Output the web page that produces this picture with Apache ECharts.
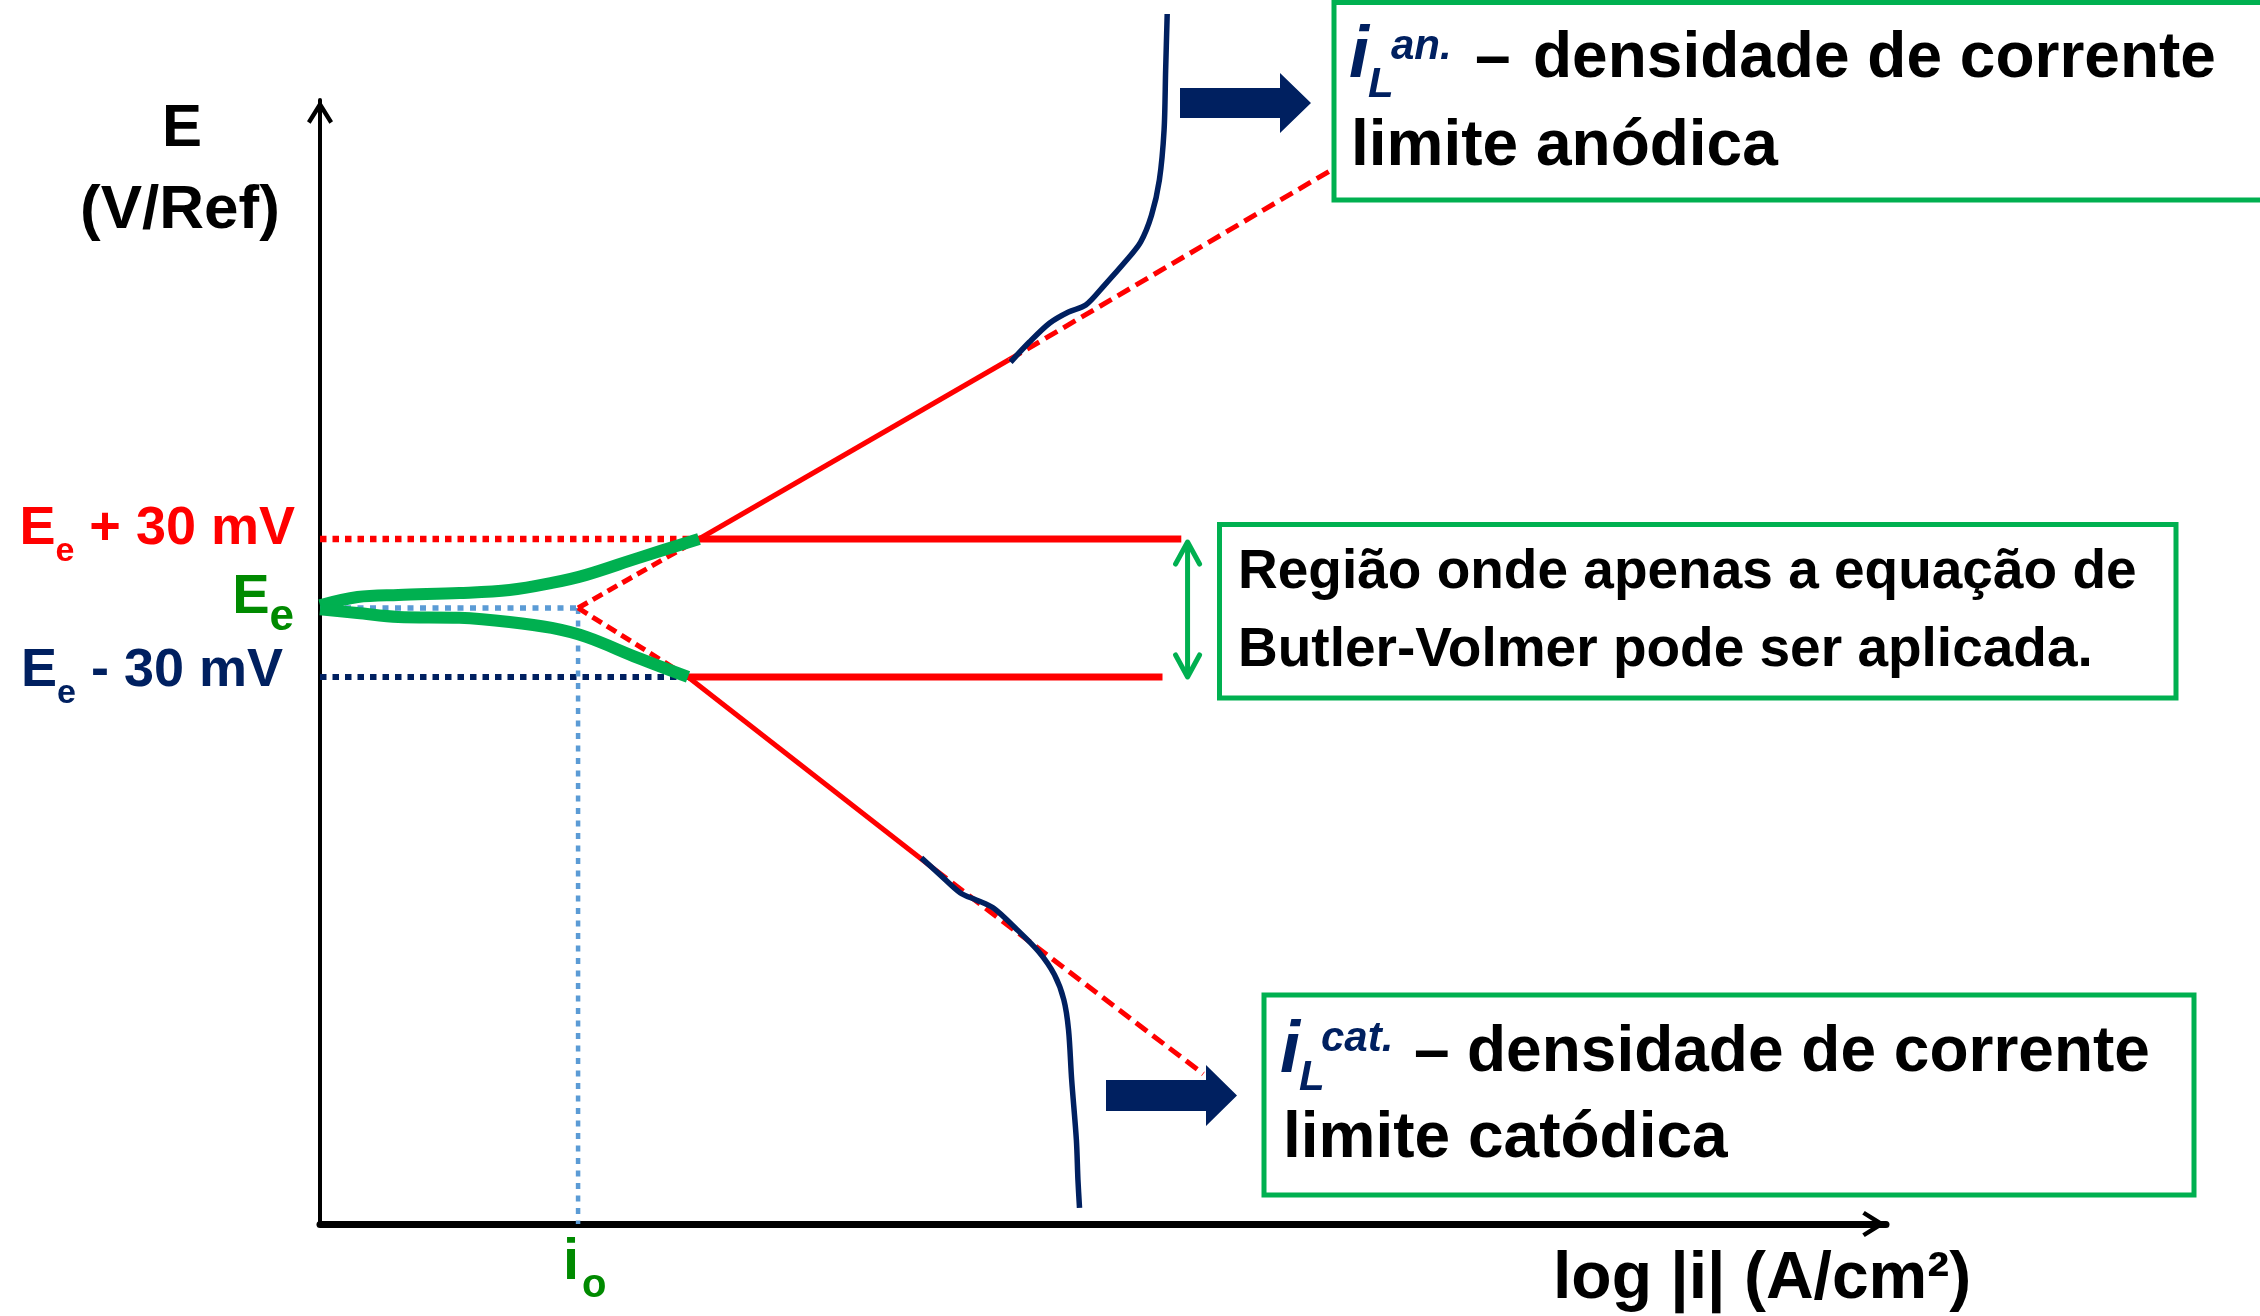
<!DOCTYPE html>
<html><head><meta charset="utf-8">
<script src="https://cdn.jsdelivr.net/npm/echarts@6/dist/echarts.min.js"></script>
<style>html,body{margin:0;padding:0;background:#fff}#c{width:2260px;height:1316px}</style>
</head><body><div id="c"></div>
<script>
// ---------- DATA (x = log|i| in arbitrary decades, E = E - Ee in mV) ----------
const xRange = [0, 10];
const eRange = [-268, 221];
const i0 = 1.648;                 // exchange current density position
const eLevels = [30, 0, -30];     // Ee + 30 mV, Ee, Ee - 30 mV

// Butler-Volmer (green) curves
const greenUpper = [[0, 1.2], [0.24, 4.8], [0.50, 5.7], [0.89, 6.5], [1.21, 7.8], [1.48, 10.9], [1.70, 14.4], [2.03, 21.7], [2.42, 30.0]];
const greenLower = [[0, -0.6], [0.24, -2.2], [0.50, -3.9], [0.89, -4.3], [1.21, -6.1], [1.48, -8.7], [1.70, -12.6], [2.03, -21.7], [2.35, -30.0]];

// Tafel lines (red)
const tafelAnodicDashNear = [[1.648, 0], [2.42, 30]];
const tafelAnodicSolid = [[2.42, 30], [4.40, 108]];
const tafelAnodicDashFar = [[4.40, 108], [6.47, 191]];
const tafelCathodicDashNear = [[1.648, 0], [2.35, -30]];
const tafelCathodicSolid = [[2.35, -30], [3.93, -114]];
const tafelCathodicDashFar = [[3.93, -114], [5.64, -202.7]];

// Region limits (red solid horizontals) and reference dotted lines
const plus30Solid = [[2.42, 30], [5.50, 30]];
const minus30Solid = [[2.35, -30], [5.38, -30]];
const plus30Dotted = [[0, 30], [2.42, 30]];
const minus30Dotted = [[0, -30], [2.35, -30]];
const eeDotted = [[0, 0], [1.648, 0]];
const i0Dotted = [[1.648, 0], [1.648, -268]];

// Real polarization curves with limiting currents (navy)
const anodicCurve = [[4.41, 107.0], [4.53, 115.7], [4.66, 124.0], [4.78, 128.8], [4.89, 131.8], [5.01, 140.5], [5.14, 150.5], [5.24, 159.2], [5.31, 170.9], [5.36, 186.2], [5.39, 207.9], [5.40, 234.0], [5.41, 258.4]];
const cathodicCurve = [[3.84, -108.7], [3.96, -116.1], [4.09, -124.0], [4.19, -127.0], [4.30, -130.5], [4.44, -139.2], [4.59, -149.6], [4.69, -159.6], [4.75, -170.5], [4.78, -183.6], [4.80, -205.3], [4.83, -231.4], [4.84, -248.8], [4.85, -261.0]];

// Texts
const yName = ['E', '(V/Ref)'];
const xName = 'log |i| (A/cm²)';
const boxMid = ['Região onde apenas a equação de', 'Butler-Volmer pode ser aplicada.'];
const boxAn = ['an.', '– ', 'densidade de corrente', 'limite anódica'];
const boxCat = ['cat.', '– ', 'densidade de corrente', 'limite catódica'];

// ---------- RENDER ----------
const FONT = '"Liberation Sans", Arial, sans-serif';
const RED = '#FF0000', NAVY = '#002060', GREEN = '#00B050', DGREEN = '#008A00', BLUE = '#5B9BD5';
const chart = echarts.init(document.getElementById('c'), null, {renderer: 'canvas'});
const chevron = 'path://M0,21 L13,0 L26,21 L22.4,23.5 L13,8.5 L3.6,23.5 Z';

function ln(data, color, width, type, extra) {
  return Object.assign({
    type: 'line', data: data, symbol: 'none', clip: false, silent: true, animation: false,
    lineStyle: {color: color, width: width, type: type || 'solid', cap: 'butt'}
  }, extra || {});
}

chart.setOption({
  animation: false,
  backgroundColor: '#fff',
  grid: {left: 320, right: 374, top: 100, bottom: 92, containLabel: false},
  xAxis: {
    type: 'value', min: xRange[0], max: xRange[1],
    axisLine: {show: true, onZero: false, symbol: ['none', chevron], symbolSize: [26, 24], symbolOffset: [0, -12],
      lineStyle: {color: '#000', width: 7}},
    axisTick: {show: false}, axisLabel: {show: false}, splitLine: {show: false}
  },
  yAxis: {
    type: 'value', min: eRange[0], max: eRange[1],
    axisLine: {show: true, onZero: false, symbol: ['none', chevron], symbolSize: [26, 24], symbolOffset: [0, -12],
      lineStyle: {color: '#000', width: 4}},
    axisTick: {show: false}, axisLabel: {show: false}, splitLine: {show: false}
  },
  series: [
    ln(plus30Dotted, RED, 6.5, [6.5, 6]),
    ln(minus30Dotted, NAVY, 6, [6.5, 6]),
    ln(eeDotted, BLUE, 5.5, [6, 6.5]),
    ln(i0Dotted, BLUE, 4.5, [6, 6.5]),
    ln(tafelAnodicDashNear, RED, 5, [11, 6]),
    ln(tafelAnodicSolid, RED, 5),
    ln(tafelAnodicDashFar, RED, 5, [14, 7]),
    ln(tafelCathodicDashNear, RED, 5, [11, 6]),
    ln(tafelCathodicSolid, RED, 5),
    ln(tafelCathodicDashFar, RED, 5, [14, 7]),
    ln(plus30Solid, RED, 7),
    ln(minus30Solid, RED, 7),
    ln(greenUpper, GREEN, 12, 'solid', {smooth: 0.35}),
    ln(greenLower, GREEN, 12, 'solid', {smooth: 0.35}),
    ln(anodicCurve, NAVY, 5.5, 'solid', {smooth: 0.3}),
    ln(cathodicCurve, NAVY, 5.5, 'solid', {smooth: 0.3})
  ]
});

// ---- annotations ----
const mctx = document.createElement('canvas').getContext('2d');
function fnt(size, italic) { return (italic ? 'italic ' : '') + 'bold ' + size + 'px ' + FONT; }
function tw(text, size, italic) { mctx.font = fnt(size, italic); return mctx.measureText(text).width; }
function T(text, x, baseline, size, color, italic, align) {
  return {type: 'text', z: 100, x: x, y: baseline - 0.3465 * size, silent: true,
    style: {text: text, font: fnt(size, italic), fill: color, align: align || 'left', textAlign: align || 'left',
      verticalAlign: 'middle', textVerticalAlign: 'middle'}};
}
// composite label right-aligned at xr: pieces [text, size, baselineShift]
function compose(pieces, xr, baseline, color) {
  let total = 0;
  pieces.forEach(p => total += tw(p[0], p[1]));
  let x = xr - total;
  const out = [];
  pieces.forEach(p => { out.push(T(p[0], x, baseline + p[2], p[1], color)); x += tw(p[0], p[1]); });
  return out;
}
const P = (x, e) => chart.convertToPixel({gridIndex: 0}, [x, e]);

const g = [];
// axis names
g.push(T(yName[0], 182, 150, 60, '#000', false, 'center'));
g.push(T(yName[1], 180, 232, 62, '#000', false, 'center'));
g.push(T(xName, 1553, 1303, 66, '#000'));

// level labels
const pP = P(0, eLevels[0]), p0 = P(0, eLevels[1]), pM = P(0, eLevels[2]);
compose([['E', 54, 0], ['e', 34, 15], [' + 30 mV', 54, 0]], pP[0] - 25, pP[1] + 9, RED).forEach(e => g.push(e));
compose([['E', 56, 0], ['e', 44, 16]], p0[0] - 26, p0[1] + 9, DGREEN).forEach(e => g.push(e));
compose([['E', 54, 0], ['e', 34, 15], [' - 30 mV', 54, 0]], pM[0] - 37, pM[1] + 13, NAVY).forEach(e => g.push(e));

// i0 label
const pi = P(i0, eRange[0]);
g.push(T('i', pi[0] - 7, pi[1] + 59, 58, DGREEN, false, 'center'));
g.push(T('o', pi[0] + 4, pi[1] + 76, 40, DGREEN));

// boxes
function box(x, y, w, h) {
  return {type: 'rect', z: 90, silent: true, shape: {x: x, y: y, width: w, height: h},
    style: {fill: '#fff', stroke: GREEN, lineWidth: 5}};
}
g.push(box(1334, 2.5, 960, 197.5));
g.push(box(1219.5, 524.5, 956.5, 173.5));
g.push(box(1264, 995, 930, 200));

// middle box text
g.push(T(boxMid[0], 1238, 592, 55, '#000'));
g.push(T(boxMid[1], 1238, 670, 55, '#000'));

// top box text
g.push(T('i', 1349, 82, 72, NAVY, true));
g.push(T('L', 1368, 100, 42, NAVY, true));
g.push(T(boxAn[0], 1391, 62, 42, NAVY, true));
g.push(T(boxAn[1], 1475, 82, 64, '#000'));
g.push(T(boxAn[2], 1533, 82, 64, '#000'));
g.push(T(boxAn[3], 1351, 170, 64, '#000'));

// bottom box text
g.push(T('i', 1280, 1077, 72, NAVY, true));
g.push(T('L', 1299, 1093, 42, NAVY, true));
g.push(T(boxCat[0], 1321, 1054, 42, NAVY, true));
g.push(T(boxCat[1], 1414, 1076, 64, '#000'));
g.push(T(boxCat[2], 1467, 1076, 64, '#000'));
g.push(T(boxCat[3], 1283, 1162, 64, '#000'));

// navy block arrows
function blockArrow(x0, yc, len, bodyH, headL, headH) {
  const xb = x0 + len - headL;
  return {type: 'polygon', z: 95, silent: true,
    shape: {points: [[x0, yc - bodyH / 2], [xb, yc - bodyH / 2], [xb, yc - headH / 2], [x0 + len, yc],
      [xb, yc + headH / 2], [xb, yc + bodyH / 2], [x0, yc + bodyH / 2]]},
    style: {fill: NAVY}};
}
g.push(blockArrow(1180, 103, 131, 30, 31, 60));
g.push(blockArrow(1106, 1095.5, 131, 31, 31, 61));

// green double arrow between Ee+30 and Ee-30
const a1 = P(5.54, eLevels[0]), a2 = P(5.54, eLevels[2]);
const ax = a1[0], yt = a1[1] + 3, yb = a2[1];
g.push({type: 'polyline', z: 95, silent: true, shape: {points: [[ax, yt + 2], [ax, yb - 2]]},
  style: {stroke: GREEN, lineWidth: 5, fill: null}});
g.push({type: 'polyline', z: 95, silent: true, shape: {points: [[ax - 12, yt + 22], [ax, yt], [ax + 12, yt + 22]]},
  style: {stroke: GREEN, lineWidth: 5, fill: null, lineCap: 'round', lineJoin: 'round'}});
g.push({type: 'polyline', z: 95, silent: true, shape: {points: [[ax - 12, yb - 22], [ax, yb], [ax + 12, yb - 22]]},
  style: {stroke: GREEN, lineWidth: 5, fill: null, lineCap: 'round', lineJoin: 'round'}});

chart.setOption({graphic: {elements: g}});
</script>
</body></html>
